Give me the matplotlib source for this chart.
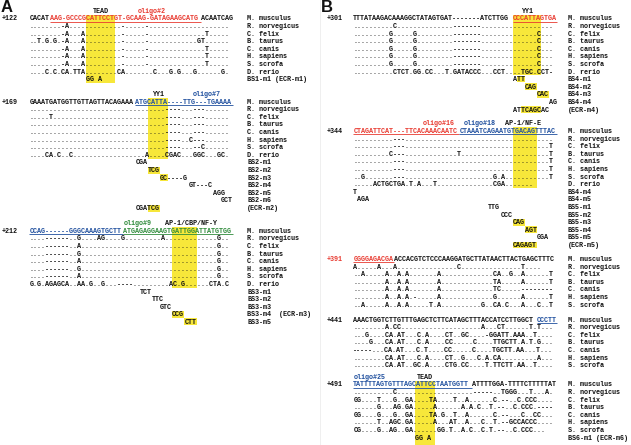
import matplotlib
matplotlib.use("Agg")
import matplotlib.pyplot as plt
from matplotlib.patches import Rectangle

# ---------------- data ----------------
SPECIES8 = ["M. musculus", "R. norvegicus", "C. felix", "B. taurus",
            "C. canis", "H. sapiens", "S. scrofa", "D. rerio"]
SPECIES7 = SPECIES8[:7]

# Panel A, block 1 (+122)
A1_NUM = "+122"
A1_MOUSE = [("CACAT", "k", 0), ("AAG-GCCCGCATTCCTGT-GCAAG-GATAGAAGCATG", "red", 1), ("ACAATCAG", "k", 0)]
A1_ROWS = [
    "........-A" ".........." "...-.....-" ".........." "..........",
    "........-A" "...A......" "...-.....-" ".........." "....T.....",
    "..T.G.G.-A" "...A......" "...-.....-" ".........." "..GT......",
    "........-A" "...A......" "...-.....-" ".........." "....T.....",
    "........-A" "...A......" "...-.....-" ".........." "....T.....",
    "........-A" "...A......" "...-.....-" ".........." "....T.....",
    "....C.C.CA" ".TTA......" "..CA......" ".C...G.G.." ".G......G.",
]
A1_MUTS = [(14, "GG A", [])]
A1_MUT_LABELS = ["BS1-m1 (ECR-m1)"]
A1_YELLOW = (14, 20, 9)
A1_TITLES = [("TEAD", "k", 17.5), ("oligo#2", "red", 30)]

# Panel A, block 2 (+169)
A2_NUM = "+169"
A2_MOUSE = [("GAAATGATGGTTGTTAGTTACAGAAA", "k", 0), ("ATGCATTA----TTG---TGAAAA", "blue", 1)]
A2_ROWS = [
    ".........." ".........." ".........." "....----.." ".---......",
    ".....T...." ".........." ".........." "....----.." ".---......",
    ".........." ".........." ".........." "....----.." ".---......",
    ".........." ".........." ".........." "....----.." ".---......",
    ".........." ".........." ".........." "....----.." "C---......",
    ".........." ".........." ".........." "....----.." ".--C......",
    "....CA.C.." "C........." ".........A" "....CGAC.." ".GGC...GC.",
]
A2_MUTS = [(26, "CGA", []), (29, "TCG", [(0, 3)]), (32, "GC----G", [(0, 2)]),
           (39, "GT---C", []), (45, "AGG", []), (47, "GCT", []), (26, "CGATCG", [(3, 6)])]
A2_MUT_LABELS = ["BS2-m1", "BS2-m2", "BS2-m3", "BS2-m4", "BS2-m5", "BS2-m6", "(ECR-m2)"]
A2_YELLOW = (29, 33, 8)
A2_TITLES = [("YY1", "k", 31.5), ("oligo#7", "blue", 43.5)]

# Panel A, block 3 (+212)
A3_NUM = "+212"
A3_MOUSE = [("CCAG------GGGCAAAGTGCTT", "blue", 1), ("ATGAGAGGAAGTGATTGGATTATGTGG", "green", 1)]
A3_ROWS = [
    "....------" "..G....AG." "...G......" "...A......" ".......G..",
    "....------" "..A......." ".........." ".........." ".......G..",
    "....------" "..G......." ".........." ".........." ".......G..",
    "....------" "..A......." ".........." ".........." ".......G..",
    "....------" "..G......." ".........." ".........." ".......G..",
    "....------" "..A......." ".........." ".........." ".......G..",
    "G.G.AGAGCA" "..AA.G..G." "..----...." ".....AC.G." ".....CTA.C",
]
A3_MUTS = [(27, "TCT", []), (30, "TTC", []), (32, "GTC", []), (35, "CCG", [(0, 3)]), (38, "CTT", [(0, 3)])]
A3_MUT_LABELS = ["BS3-m1", "BS3-m2", "BS3-m3", "BS3-m4  (ECR-m3)", "BS3-m5"]
A3_YELLOW = (35, 40, 8)
A3_TITLES = [("oligo#9", "green", 26.5), ("AP-1/CBP/NF-Y", "k", 39.5)]

# Panel B, block 1 (+301)
B1_NUM = "+301"
B1_MOUSE = [("TTTATAAGACAAAGGCTATAGTGAT-------ATCTTGG", "k", 0), ("CCCATTAGTGA", "red", 1)]
B1_ROWS = [
    ".........." "C........." ".....-----" "--........" "..........",
    ".........G" ".....G...." ".....-----" "--........" "......C...",
    ".........G" ".....G...." ".....-----" "--........" "......C...",
    ".........G" ".....G...." ".....-----" "--........" "......C...",
    ".........G" ".....G...." ".....-----" "--........" "......C...",
    ".........G" ".....G...." ".....-----" "--........" "......C...",
    ".........." "CTCT.GG.CC" "...T.GATAC" "CC...CCT.." "..TGC.CCT-",
]
B1_MUTS = [(39, "ATT", [(1, 3)]), (42, "CAG", [(0, 3)]), (45, "CAC", [(0, 3)]),
           (48, "AG", []), (39, "ATTCAGCAC", [(2, 7)])]
B1_MUT_LABELS = ["BS4-m1", "BS4-m2", "BS4-m3", "BS4-m4", "(ECR-m4)"]
B1_YELLOW = (39, 45, 8)
B1_TITLES = [("YY1", "k", 42.5)]

# Panel B, block 2 (+344)
B2_NUM = "+344"
B2_MOUSE = [("CTAGATTCAT---TTCACAAACAATC", "red", 1), ("CTAAATCAGAATGTGACAGTTTAC", "blue", 1)]
B2_ROWS = [
    ".........." "---......." ".........." ".........." "..........",
    ".........." "---......." ".........." ".........." ".........T",
    ".........C" "---......." "......T..." ".........." ".........T",
    ".........." "---......." ".........." ".........." ".........T",
    ".........." "---......." ".........." ".........." ".........T",
    "..G......." "---......." ".........." ".....G.A.." ".........T",
    ".....ACTGC" "TGA.T.A..." "T........." ".....CGA.." ".....",
]
B2_MUTS = [(0, "T", []), (1, "AGA", []), (33, "TTG", []), (36, "CCC", []),
           (39, "CAG", [(0, 3)]), (42, "AGT", [(0, 3)]), (45, "GGA", []), (39, "CAGAGT", [(0, 6)])]
B2_MUT_LABELS = ["BS4-m4", "BS4-m5", "BS5-m1", "BS5-m2", "BS5-m3", "BS5-m4", "BS5-m5", "(ECR-m5)"]
B2_YELLOW = (39, 44, 8)
B2_TITLES = [("oligo#16", "red", 21), ("oligo#18", "blue", 31), ("AP-1/NF-E", "k", 41.5)]

# Panel B, block 3 (+391)
B3_NUM = "+391"
B3_MOUSE = [("GGGGAGACGA", "red", 1), ("ACCACGTCTCCCAAGGATGCTTATAACTTACTGAGCTTTC", "k", 0)]
B3_ROWS = [
    "A.....A..." "A........." "......C..." ".........." "..T....",
    "..A.....A." ".A.A......" ".A........" ".....CA..G" "..A......T",
    "........A." ".A.A......" ".A........" ".....TA..." "..A......T",
    "........A." ".A.A......" ".A........" ".....TC..." "..--------",
    "........A." ".A.A.-...." ".A........" ".....G...." "..A......T",
    "..A.....A." ".A.A.....T" ".A........" "..G..CA.C." "..A...C..T",
]

# Panel B, block 4 (+441)
B4_NUM = "+441"
B4_MOUSE = [("AAACTGGTCTTGTTTGAGCTCTTCATAGCTTTACCATCCTTGGCT", "k", 0), ("CCCTT", "blue", 1)]
B4_ROWS = [
    "........A." "CC........" ".........." "..A...CT.." "....T.T...",
    "...G....CA" ".AT...C.A." "...CT..GC." "...-GGATT." "AAA..T....",
    "....G...CA" ".AT...C.A." "...CC....." "C....TTGCT" "T.A.T.G...",
    "-----...CA" ".AT...C.T." "...CC....." "C....TGCTT" ".AA...T...",
    "........CA" ".AT...C.A." "...CT..G.." ".C.A.CA..." "......A...",
    "........CA" ".AT..GC.A." "...CTG.CC." "...T.TTCTT" ".AA..T....",
]

# Panel B, block 5 (+491)
B5_NUM = "+491"
B5_MOUSE = [("TATTTTAGTGTTTAGCATTCCTAATGGTT", "blue", 1), ("ATTTTGGA-TTTTCTTTTTAT", "k", 0)]
B5_ROWS = [
    ".........." "C........." ".........." "-----..TGG" "G...T...A.",
    "GG....T..." "G..GA....T" "A....T..A." ".....C.--." ".C.CCC....",
    "......G..." "AG.GA....." "A......A.A" ".C..T.--.." "C.CCC.----",
    "GG....G..." "G..GA....T" "A.G..T..A." ".....C.--." "..C..CC...",
    "......T..A" "GC.GA....." "A...AT..A." "..C..T.--G" "CCACCC....",
    "CG....G..A" "G..GA....." ".GG.T..A.C" "..C.T.--.." "C.CCC...",
]
B5_MUTS = [(15, "GG A", [])]
B5_MUT_LABELS = ["BS6-m1 (ECR-m6)"]
B5_YELLOW = (15, 19, 9)
B5_TITLES = [("oligo#25", "blue", 4), ("TEAD", "k", 17.5)]

# ---------------- style / layout ----------------
W, H, DPI = 631, 445, 100
FS = 4.9
CW = 0.6 * FS * DPI / 72.0
ROW = 7.6
MONO = "Liberation Mono"
COL = {"k": "#111111", "red": "#e8392f", "blue": "#1f4f9e", "green": "#2e8b3a"}
YEL = "#f7e73a"

fig = plt.figure(figsize=(W / DPI, H / DPI), dpi=DPI)
ax = fig.add_axes([0, 0, 1, 1])
ax.set_xlim(0, W)
ax.set_ylim(H, 0)
ax.axis("off")


def txt(x, y, s, color="k", bold=False, ha="left", size=FS):
    ax.text(x, y + 2.0, s, color=COL.get(color, color), fontsize=size,
            family=MONO, fontweight="bold" if bold else "normal",
            ha=ha, va="baseline", zorder=3)


def block(x0, xlab, xnum, y0, num, numcol, mouse, rows, species,
          muts=(), mut_labels=(), yellow=None, titles=()):
    if yellow:
        s, e, n = yellow
        ax.add_patch(Rectangle((x0 + s * CW, y0 - ROW / 2), (e - s + 1) * CW, n * ROW,
                               color=YEL, lw=0, zorder=1))
    txt(xnum, y0, num, numcol, bold=True)
    i = 0
    for seg, c, ul in mouse:
        txt(x0 + i * CW, y0, seg, c, bold=True)
        if ul:
            ax.plot([x0 + i * CW, x0 + (i + len(seg)) * CW], [y0 + 3.3] * 2,
                    color=COL[c], lw=0.6, zorder=3, solid_capstyle="butt")
        i += len(seg)
    for k, r in enumerate(rows):
        txt(x0, y0 + (k + 1) * ROW, r, bold=True)
    for k, sp in enumerate(species):
        txt(xlab, y0 + k * ROW, sp, bold=True)
    base = len(rows) + 1
    for k, ((off, s, hls), lab) in enumerate(zip(muts, mut_labels)):
        y = y0 + (base + k) * ROW
        for a, b in hls:
            ax.add_patch(Rectangle((x0 + (off + a) * CW, y - ROW / 2 + 0.4), (b - a) * CW, ROW - 0.8,
                                   color=YEL, lw=0, zorder=1))
        txt(x0 + off * CW, y, s, bold=True)
        txt(xlab, y, lab, bold=True)
    for t, c, ci in titles:
        txt(x0 + ci * CW, y0 - ROW, t, c, bold=True, ha="center")


XA, LA, NA = 29.3, 247.0, 1.5
XB, LB, NB = 353.3, 568.0, 326.5

block(XA, LA, NA, 18.3, A1_NUM, "k", A1_MOUSE, A1_ROWS, SPECIES8, A1_MUTS, A1_MUT_LABELS, A1_YELLOW, A1_TITLES)
block(XA, LA, NA, 101.7, A2_NUM, "k", A2_MOUSE, A2_ROWS, SPECIES8, A2_MUTS, A2_MUT_LABELS, A2_YELLOW, A2_TITLES)
block(XA, LA, NA, 230.7, A3_NUM, "k", A3_MOUSE, A3_ROWS, SPECIES8, A3_MUTS, A3_MUT_LABELS, A3_YELLOW, A3_TITLES)
block(XB, LB, NB, 18.3, B1_NUM, "k", B1_MOUSE, B1_ROWS, SPECIES8, B1_MUTS, B1_MUT_LABELS, B1_YELLOW, B1_TITLES)
block(XB, LB, NB, 131.0, B2_NUM, "k", B2_MOUSE, B2_ROWS, SPECIES8, B2_MUTS, B2_MUT_LABELS, B2_YELLOW, B2_TITLES)
block(XB, LB, NB, 259.0, B3_NUM, "red", B3_MOUSE, B3_ROWS, SPECIES7)
block(XB, LB, NB, 319.5, B4_NUM, "k", B4_MOUSE, B4_ROWS, SPECIES7)
block(XB, LB, NB, 384.5, B5_NUM, "k", B5_MOUSE, B5_ROWS, SPECIES7, B5_MUTS, B5_MUT_LABELS, B5_YELLOW, B5_TITLES)

# panel letters and separator
ax.text(1, 12.0, "A", fontsize=12, fontweight="bold", family="Liberation Sans",
        color="#111111", va="baseline")
ax.text(321, 12.0, "B", fontsize=12, fontweight="bold", family="Liberation Sans",
        color="#111111", va="baseline")
ax.plot([319.5, 319.5], [0, H], color="#ececec", lw=0.6, zorder=0)

fig.savefig("out.png", dpi=DPI)
